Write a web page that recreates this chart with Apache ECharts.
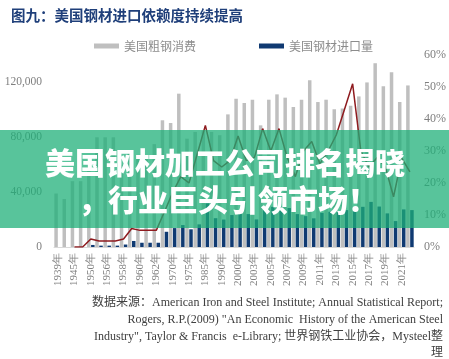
<!DOCTYPE html>
<html><head><meta charset="utf-8">
<script src="https://cdn.jsdelivr.net/npm/echarts@6/dist/echarts.min.js"></script>
<style>html,body{margin:0;padding:0;background:#fff}#c{width:449px;height:359px}</style>
</head><body><div id="c"></div>
<script>
var categories = ['1939年','1940年','1945年','1946年','1950年','1955年','1956年','1957年','1958年','1959年','1960年','1961年','1962年','1965年','1970年','1973年','1975年','1980年','1985年','1988年','1990年','1995年','2000年','2001年','2003年','2004年','2005年','2006年','2007年','2008年','2009年','2010年','2011年','2012年','2013年','2014年','2015年','2016年','2017年','2018年','2019年','2020年','2021年','2022年'];
var consumption = [39000,35000,48000,48000,60000,80000,80000,80000,60000,70000,65000,65000,75000,92400,90400,111800,79000,83900,85000,83900,81500,96700,108100,105000,107400,88700,107400,111300,108900,102000,107400,121500,105700,107400,100400,101000,103000,109800,120000,134000,117300,127500,105700,117800];
var imports = [0,0,0,0,1500,1000,1000,1000,1800,4400,3100,3100,3100,11100,13800,16000,12900,16500,31800,21000,20000,23300,24500,24000,20100,28100,29300,29300,28400,24000,22500,20900,24900,25700,25500,26900,27600,29300,32900,29500,24500,18900,27400,26900];
var dependence = [null,null,0,0,2.5,1.9,1.9,1.9,2.5,5.8,5.2,5.2,5.2,11,17,22,20,29,38,27,25,27,34.7,27,28,37,30,37,28,22,30,33,26,30,35,43,51,30,25,28,25,15.7,27.8,23.5];
var leftTicks = [0,40000,80000,120000];

var chart = echarts.init(document.getElementById('c'));
var serif = '"Liberation Serif","DejaVu Serif",serif';
var cjk = '"Noto Sans CJK SC","Noto Sans",sans-serif';
var srcFont = '12px "Liberation Serif","Noto Sans CJK SC"';
chart.setOption({
  animation:false,
  title:{text:'图九：美国钢材进口依赖度持续提高',left:6,top:3,textStyle:{fontFamily:cjk,fontSize:14.5,fontWeight:'bold',color:'#1F3F7A'}},
  legend:{left:89,top:35,itemWidth:25,itemHeight:5,itemGap:63,icon:'rect',
    textStyle:{fontFamily:cjk,fontSize:12,color:'#8C8C8C'},data:['美国粗钢消费','美国钢材进口量']},
  grid:{left:54,right:34,top:55,bottom:112},
  xAxis:{type:'category',data:categories,
    axisLine:{lineStyle:{color:'#D9D9D9'}},axisTick:{show:false},
    axisLabel:{interval:1,rotate:90,margin:6,fontFamily:serif,fontSize:11,color:'#7F7F7F'}},
  yAxis:[{type:'value',min:0,max:140000,interval:20000,splitLine:{show:false},
    axisLabel:{margin:12,fontFamily:serif,fontSize:11.5,color:'#7F7F7F',
      formatter:function(v){return leftTicks.indexOf(v)>=0?echarts.format.addCommas(v):'';}}},
    {type:'value',min:0,max:60,interval:10,position:'right',splitLine:{show:false},
    axisLabel:{margin:10,fontFamily:serif,fontSize:12,color:'#7F7F7F',formatter:'{value}%'}}],
  series:[
    {name:'美国粗钢消费',type:'bar',data:consumption,barWidth:3.5,barGap:'15%',itemStyle:{color:'#BFBFBF'}},
    {name:'美国钢材进口量',type:'bar',data:imports,barWidth:3.5,itemStyle:{color:'#103A72'}},
    {name:'进口依赖度',type:'line',yAxisIndex:1,data:dependence,symbol:'none',lineStyle:{color:'#8E1B1F',width:1.5}}
  ],
  graphic:[
    {type:'rect',z:100,shape:{x:0,y:130,width:449,height:98},style:{fill:'rgba(30,175,120,0.74)'}},
    {type:'text',z:101,x:225,y:163,style:{text:'美国钢材加工公司排名揭晓',fill:'#fff',font:'900 30px "Noto Sans CJK SC"',textAlign:'center',textVerticalAlign:'middle'}},
    {type:'text',z:101,x:228,y:200,style:{text:'，行业巨头引领市场！',fill:'#fff',font:'900 30px "Noto Sans CJK SC"',textAlign:'center',textVerticalAlign:'middle'}},
    {type:'text',x:443,y:303,style:{text:'数据来源：American Iron and Steel Institute; Annual Statistical Report;',fill:'#404040',font:srcFont,textAlign:'right',textVerticalAlign:'middle'}},
    {type:'text',x:443,y:320,style:{text:'Rogers, R.P.(2009) "An Economic  History of the American Steel',fill:'#404040',font:srcFont,textAlign:'right',textVerticalAlign:'middle'}},
    {type:'text',x:443,y:337,style:{text:'Industry", Taylor & Francis  e-Library; 世界钢铁工业协会，Mysteel整',fill:'#404040',font:srcFont,textAlign:'right',textVerticalAlign:'middle'}},
    {type:'text',x:443,y:353,style:{text:'理',fill:'#404040',font:srcFont,textAlign:'right',textVerticalAlign:'middle'}}
  ]
});
</script></body></html>
